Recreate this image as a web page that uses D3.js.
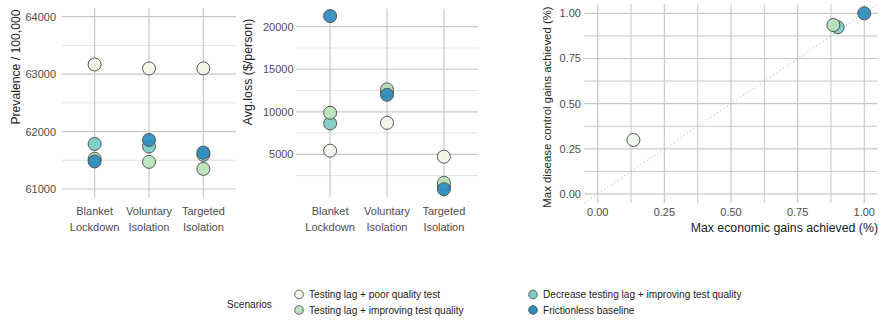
<!DOCTYPE html>
<html>
<head>
<meta charset="utf-8">
<script src="https://cdn.jsdelivr.net/npm/d3@7"></script>
<style>
  body { margin: 0; background: #fff; }
  text { font-family: "Liberation Sans", Arial, sans-serif; }
</style>
</head>
<body>
<div id="chart"></div>
<script>
const CATEGORIES = ["Blanket Lockdown", "Voluntary Isolation", "Targeted Isolation"];
const CATEGORY_LINES = [["Blanket", "Lockdown"], ["Voluntary", "Isolation"], ["Targeted", "Isolation"]];
const SCENARIOS = ["Testing lag + poor quality test", "Testing lag + improving test quality",
                   "Decrease testing lag + improving test quality", "Frictionless baseline"];
const SCENARIO_COLOURS = ["#f0f9e8", "#bae4bc", "#7bccc4", "#2b8cbe"];
// draw order: poor, decrease, improving, frictionless
const DRAW_ORDER = [0, 2, 1, 3];

// prevalence per 100,000, one value per category
const PREVALENCE = [
  [63168, 63099, 63099],
  [61525, 61472, 61350],
  [61784, 61740, 61595],
  [61480, 61855, 61634]
];
// average loss ($/person)
const AVG_LOSS = [
  [5431, 8706, 4725],
  [9882, 12627, 1650],
  [8627, 12353, 1300],
  [21250, 12000, 900]
];
// max economic gains achieved, max disease control gains achieved
const ECON_GAINS = [0.134, 0.884, 0.900, 1.0];
const DISEASE_GAINS = [0.299, 0.935, 0.923, 1.0];

const PREV_TICKS = [61000, 62000, 63000, 64000];
const PREV_MINOR = [61500, 62500, 63500];
const LOSS_TICKS = [5000, 10000, 15000, 20000];
const LOSS_MINOR = [2500, 7500, 12500, 17500];
const GAIN_TICKS = [0, 0.25, 0.5, 0.75, 1];
const GAIN_MINOR = [0.125, 0.375, 0.625, 0.875];

const MAJOR_GRID = "#c8c8c8";
const MINOR_GRID = "#dadada";
const TICK_TEXT = "#4d4d4d";
const POINT_R = 6.5;

var svg = d3.select("#chart")
  .append("svg")
    .attr("width", 880)
    .attr("height", 320);

function hGrid(g, y, values, x0, x1, colour, w) {
  g.selectAll(null)
    .data(values)
    .enter()
    .append("line")
      .attr("x1", x0).attr("x2", x1)
      .attr("y1", function(d) { return y(d); })
      .attr("y2", function(d) { return y(d); })
      .attr("stroke", colour)
      .attr("stroke-width", w);
}

function vGrid(g, x, values, y0, y1, colour, w) {
  g.selectAll(null)
    .data(values)
    .enter()
    .append("line")
      .attr("y1", y0).attr("y2", y1)
      .attr("x1", function(d) { return x(d); })
      .attr("x2", function(d) { return x(d); })
      .attr("stroke", colour)
      .attr("stroke-width", w);
}

function yLabels(g, y, values, xRight, fmt) {
  g.selectAll(null)
    .data(values)
    .enter()
    .append("text")
      .attr("x", xRight)
      .attr("y", function(d) { return y(d); })
      .attr("dy", "0.36em")
      .attr("text-anchor", "end")
      .attr("font-size", "11px")
      .attr("fill", TICK_TEXT)
      .text(fmt);
}

function yTitle(x, y, label, size) {
  svg.append("text")
    .attr("transform", "translate(" + x + "," + y + ") rotate(-90)")
    .attr("text-anchor", "middle")
    .attr("font-size", size + "px")
    .attr("fill", "#222")
    .text(label);
}

function categoryPanel(values, x0, x1, yDomain, yRange, ticks, minor, labelX) {
  var x = d3.scalePoint()
    .domain(CATEGORIES)
    .range([x0, x1])
    .padding(0.6);
  var y = d3.scaleLinear()
    .domain(yDomain)
    .range(yRange);
  var g = svg.append("g");

  hGrid(g, y, minor, x0, x1, MINOR_GRID, 0.8);
  hGrid(g, y, ticks, x0, x1, MAJOR_GRID, 1.2);
  vGrid(g, x, CATEGORIES, yRange[0], yRange[1], MAJOR_GRID, 1.2);
  yLabels(g, y, ticks, labelX, function(d) { return d; });

  // category labels on two lines
  var lab = g.selectAll(null)
    .data(CATEGORIES)
    .enter()
    .append("text")
      .attr("text-anchor", "middle")
      .attr("font-size", "11px")
      .attr("fill", TICK_TEXT);
  lab.each(function(d, i) {
    var t = d3.select(this);
    CATEGORY_LINES[i].forEach(function(line, j) {
      t.append("tspan")
        .attr("x", x(d))
        .attr("y", 215 + j * 15.5)
        .text(line);
    });
  });

  // dots
  DRAW_ORDER.forEach(function(s) {
    g.selectAll(null)
      .data(values[s])
      .enter()
      .append("circle")
        .attr("cx", function(d, i) { return x(CATEGORIES[i]); })
        .attr("cy", function(d) { return y(d); })
        .attr("r", POINT_R)
        .attr("fill", SCENARIO_COLOURS[s])
        .attr("fill-opacity", 0.92)
        .attr("stroke", "#555")
        .attr("stroke-width", 1);
  });
}

// panel 1: prevalence
categoryPanel(PREVALENCE, 62, 236, [60850, 64150], [197.6, 8.1], PREV_TICKS, PREV_MINOR, 56);
yTitle(19.5, 67, "Prevalence / 100,000", 12.2);

// panel 2: avg loss
categoryPanel(AVG_LOSS, 296, 478, [-5, 22105], [196.9, 8.8], LOSS_TICKS, LOSS_MINOR, 293.5);
yTitle(252, 72, "Avg.loss ($/person)", 12.4);

// panel 3: gains scatter
var gx = d3.scaleLinear().domain([-0.05, 1.05]).range([584.4, 877.6]);
var gy = d3.scaleLinear().domain([-0.05, 1.05]).range([203, 4.3]);
var g3 = svg.append("g");
hGrid(g3, gy, GAIN_MINOR, 584.4, 877.6, MAJOR_GRID, 1);
hGrid(g3, gy, GAIN_TICKS, 584.4, 877.6, MAJOR_GRID, 1.2);
vGrid(g3, gx, GAIN_MINOR, 203, 4.3, MAJOR_GRID, 1);
vGrid(g3, gx, GAIN_TICKS, 203, 4.3, MAJOR_GRID, 1.2);
yLabels(g3, gy, GAIN_TICKS, 581, d3.format(".2f"));

g3.selectAll(null)
  .data(GAIN_TICKS)
  .enter()
  .append("text")
    .attr("x", function(d) { return gx(d); })
    .attr("y", 216)
    .attr("text-anchor", "middle")
    .attr("font-size", "11px")
    .attr("fill", TICK_TEXT)
    .text(d3.format(".2f"));

// y = x reference line
g3.append("line")
  .attr("x1", gx(-0.05)).attr("y1", gy(-0.05))
  .attr("x2", gx(1.05)).attr("y2", gy(1.05))
  .attr("stroke", "#aaaaaa")
  .attr("stroke-width", 1)
  .attr("stroke-dasharray", "1,3");

DRAW_ORDER.forEach(function(s) {
  g3.append("circle")
    .attr("cx", gx(ECON_GAINS[s]))
    .attr("cy", gy(DISEASE_GAINS[s]))
    .attr("r", POINT_R)
    .attr("fill", SCENARIO_COLOURS[s])
    .attr("fill-opacity", 0.92)
    .attr("stroke", "#555")
    .attr("stroke-width", 1);
});

svg.append("text")
  .attr("x", 878)
  .attr("y", 232)
  .attr("text-anchor", "end")
  .attr("font-size", "12.3px")
  .attr("fill", "#222")
  .text("Max economic gains achieved (%)");
yTitle(551, 107, "Max disease control gains achieved (%)", 11.4);

// legend
svg.append("text")
  .attr("transform", "translate(227,308) scale(0.92,1)")
  .attr("font-size", "11px")
  .attr("fill", "#222")
  .text("Scenarios");

var legendPos = [[299, 294.5], [299, 310], [533, 294.5], [533, 310]];
var legend = svg.append("g")
  .selectAll(null)
  .data(SCENARIOS)
  .enter()
  .append("g")
    .attr("transform", function(d, i) { return "translate(" + legendPos[i][0] + "," + legendPos[i][1] + ")"; });
legend.append("circle")
  .attr("r", 4.3)
  .attr("fill", function(d, i) { return SCENARIO_COLOURS[i]; })
  .attr("stroke", "#444")
  .attr("stroke-width", 0.8);
legend.append("text")
  .attr("transform", "translate(10,0) scale(0.92,1)")
  .attr("dy", "0.35em")
  .attr("font-size", "11px")
  .attr("fill", "#222")
  .text(function(d) { return d; });
</script>
</body>
</html>
